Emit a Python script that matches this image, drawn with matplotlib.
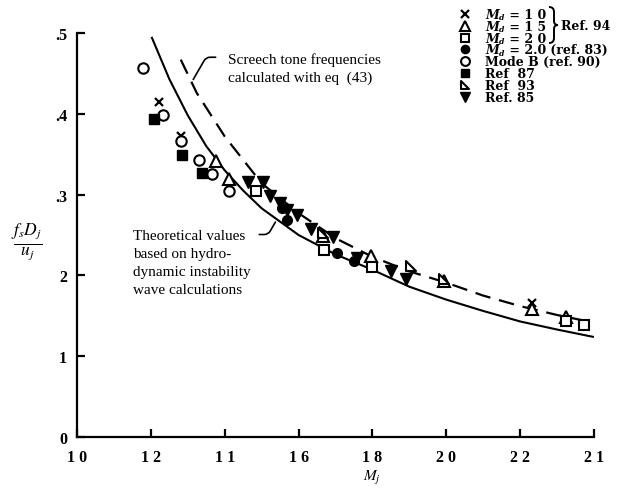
import matplotlib
matplotlib.use("Agg")
import matplotlib.pyplot as plt
from matplotlib.path import Path
from matplotlib.patches import PathPatch
import numpy as np

plt.rcParams["font.family"] = ["Liberation Serif", "DejaVu Serif"]
plt.rcParams["mathtext.fontset"] = "stix"

# theoretical curve (hydrodynamic instability wave calculations)
theory_M = [1.203, 1.25, 1.30, 1.35, 1.40, 1.45, 1.50, 1.60, 1.70, 1.80, 1.90, 2.00, 2.10, 2.20, 2.30, 2.397]
theory_f = [0.494, 0.443, 0.398, 0.360, 0.330, 0.305, 0.283, 0.250, 0.226, 0.207, 0.186, 0.170, 0.156, 0.143, 0.133, 0.124]

# screech tone frequencies, eq (43)
screech_M = [1.281, 1.324, 1.40, 1.50, 1.60, 1.70, 1.80, 1.90, 2.00, 2.10, 2.20, 2.30, 2.395]
screech_f = [0.467, 0.426, 0.372, 0.314, 0.277, 0.246, 0.223, 0.205, 0.191, 0.175, 0.162, 0.151, 0.142]

# measured data
md10_M = [1.222, 1.281, 2.232]
md10_f = [0.414, 0.373, 0.166]
md15_M = [1.376, 1.411, 1.665, 1.797, 1.995, 2.232, 2.324]
md15_f = [0.341, 0.319, 0.249, 0.224, 0.193, 0.158, 0.149]
md20_M = [1.486, 1.670, 1.800, 2.324, 2.372]
md20_f = [0.304, 0.232, 0.210, 0.144, 0.139]
ref83_M = [1.554, 1.568, 1.705, 1.751]
ref83_f = [0.284, 0.268, 0.228, 0.218]
modeB_M = [1.178, 1.232, 1.281, 1.330, 1.365, 1.411]
modeB_f = [0.457, 0.399, 0.366, 0.343, 0.325, 0.305]
ref87_M = [1.208, 1.284, 1.338]
ref87_f = [0.393, 0.349, 0.327]
ref93_M = [1.665, 1.905, 1.995]
ref93_f = [0.252, 0.212, 0.195]
ref85_M = [1.462, 1.503, 1.522, 1.549, 1.568, 1.597, 1.635, 1.692, 1.759, 1.851, 1.892]
ref85_f = [0.315, 0.315, 0.298, 0.290, 0.281, 0.275, 0.257, 0.247, 0.221, 0.205, 0.195]

x_ticks = [1.0, 1.2, 1.4, 1.6, 1.8, 2.0, 2.2, 2.4]
x_ticklabels = ["1 0", "1 2", "1 1", "1 6", "1 8", "2 0", "2 2", "2 1"]
y_ticks = [0, 0.1, 0.2, 0.3, 0.4, 0.5]
y_ticklabels = ["0", "1", "2", ".3", ".4", ".5"]

# legend entries: (value after "M_d =", or None, rest of label)
legend_md = ["1 0", "1 5", "2 0", "2.0", None, None, None, None]
legend_rest = ["", "", "", " (ref. 83)", "Mode B (ref. 90)", "Ref  87", "Ref  93", "Ref. 85"]

# right-angle triangle marker for ref 93
rtri = Path([(-1, 1), (-1, -1), (1, -1), (-1, 1)], [Path.MOVETO, Path.LINETO, Path.LINETO, Path.CLOSEPOLY])

styles = [
    dict(marker="x", ms=6, mew=1.6, color="k"),
    dict(marker="^", ms=8, mew=1.5, mfc="white", mec="k"),
    dict(marker="s", ms=7, mew=1.5, mfc="white", mec="k"),
    dict(marker="o", ms=7, mew=1.0, mfc="k", mec="k"),
    dict(marker="o", ms=7.5, mew=1.5, mfc="white", mec="k"),
    dict(marker="s", ms=7, mew=1.0, mfc="k", mec="k"),
    dict(marker=rtri, ms=7, mew=1.5, mfc="white", mec="k"),
    dict(marker="v", ms=8.5, mew=1.0, mfc="k", mec="k"),
]
series = [(md10_M, md10_f), (md15_M, md15_f), (md20_M, md20_f), (ref83_M, ref83_f),
          (modeB_M, modeB_f), (ref87_M, ref87_f), (ref93_M, ref93_f), (ref85_M, ref85_f)]

W, H = 618, 489
fig = plt.figure(figsize=(W / 100, H / 100), dpi=100)
ax = fig.add_axes([77 / W, 51 / H, 517 / W, 404 / H])

ax.plot(theory_M, theory_f, color="k", lw=1.5, zorder=2)
ax.plot(screech_M, screech_f, color="k", lw=1.6, dashes=(7, 4), zorder=2)

for (m, f), st in zip(series, styles):
    ax.plot(m, f, ls="none", zorder=3, clip_on=False, **st)

ax.set_xlim(1.0, 2.4)
ax.set_ylim(0, 0.5)
ax.spines["top"].set_visible(False)
ax.spines["right"].set_visible(False)
ax.spines["left"].set_linewidth(1.6)
ax.spines["bottom"].set_linewidth(1.6)
ax.set_xticks(x_ticks)
ax.set_xticklabels(x_ticklabels, fontsize=11.5, fontweight="bold")
ax.set_yticks(y_ticks)
ax.set_yticklabels(y_ticklabels, fontsize=11.5, fontweight="bold")
ax.tick_params(axis="both", direction="in", length=6, width=1.6)
ax.tick_params(axis="x", pad=9)
ax.tick_params(axis="y", pad=7)

# annotations
ax.text(1.410, 0.457, "Screech tone frequencies\ncalculated with eq  (43)", fontsize=11,
        va="center", ha="left", linespacing=1.45)
ax.annotate("", xy=(1.311, 0.4395), xytext=(1.383, 0.470),
            arrowprops=dict(arrowstyle="-", lw=1.2, color="k",
                            connectionstyle="angle,angleA=0,angleB=60,rad=4"))
ax.text(1.151, 0.258, "Theoretical values\nbased on hydro-\ndynamic instability\nwave calculations",
        fontsize=11, va="top", ha="left", linespacing=1.5, zorder=4)
ax.annotate("", xy=(1.541, 0.269), xytext=(1.486, 0.2506),
            arrowprops=dict(arrowstyle="-", lw=1.2, color="k",
                            connectionstyle="angle,angleA=0,angleB=60,rad=4"))

# axis labels
fig.text(27 / W, 1 - 242 / H, r"$\frac{f_s D_j}{u_j}$", fontsize=18, ha="center", va="center")
fig.text(372 / W, 1 - 478 / H, r"$M_j$", fontsize=11, ha="center", va="center")

# legend, drawn piece by piece so the subscripts stay compact
renderer = fig.canvas.get_renderer()
leg_font = dict(family="DejaVu Serif", fontweight="bold", fontsize=9)
leg_styles = [dict(st, ms=st["ms"] * 0.85) for st in styles]


def put(x_px, y_px, s, **kw):
    t = fig.text(x_px / W, 1 - y_px / H, s, va="baseline", ha="left", **kw)
    return t.get_window_extent(renderer).x1


for i, (md, rest, st) in enumerate(zip(legend_md, legend_rest, leg_styles)):
    y_mid = 15 + i * 11.8
    ax.plot([465 / W], [1 - y_mid / H], ls="none", transform=fig.transFigure, clip_on=False, **st)
    base = y_mid + 4
    x = 485
    if md is not None:
        x = put(x, base, "M", family="DejaVu Serif", fontweight="bold", fontstyle="italic", fontsize=9)
        x = put(x, base + 1.2, "d", family="DejaVu Serif", fontweight="bold", fontstyle="italic", fontsize=5.5)
        x = put(x + 1, base, " = " + md, **leg_font)
    if rest:
        put(x, base, rest, **leg_font)

# curly brace grouping the first three entries
bx, by = 549, 8
brace_pts = [(bx, by), (bx + 5, by), (bx + 5, by + 5), (bx + 5, by + 14), (bx + 5, by + 18), (bx + 9, by + 18),
             (bx + 5, by + 18), (bx + 5, by + 22), (bx + 5, by + 31), (bx + 5, by + 36), (bx, by + 36)]
brace_codes = [Path.MOVETO, Path.CURVE3, Path.CURVE3, Path.LINETO, Path.CURVE3, Path.CURVE3,
               Path.CURVE3, Path.CURVE3, Path.LINETO, Path.CURVE3, Path.CURVE3]
brace = Path([(px / W, 1 - py / H) for px, py in brace_pts], brace_codes)
fig.add_artist(PathPatch(brace, fill=False, lw=1.4, ec="k", transform=fig.transFigure))
fig.text(561 / W, 1 - 27 / H, "Ref. 94", va="center", ha="left", **leg_font)

fig.savefig("out.png", dpi=100)
